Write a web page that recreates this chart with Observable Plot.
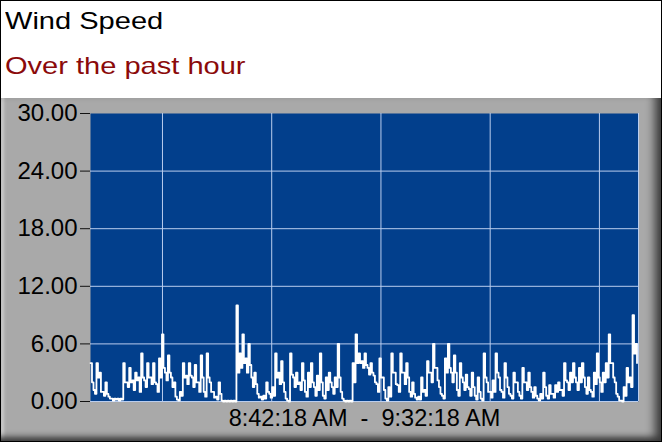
<!DOCTYPE html>
<html><head><meta charset="utf-8">
<script src="https://cdn.jsdelivr.net/npm/d3@7"></script>
<script src="https://cdn.jsdelivr.net/npm/@observablehq/plot@0.6"></script>
<style>
html,body{margin:0;padding:0;background:#fff;}
#wrap{position:relative;width:662px;height:442px;box-sizing:border-box;border:1px solid #000;overflow:hidden;font-family:"Liberation Sans",Arial,sans-serif;background:#fff;}
#title,#subtitle{position:absolute;left:4px;font-size:24px;line-height:24px;white-space:nowrap;transform:scaleX(1.21);transform-origin:0 0;}
#title{top:8px;color:#000;}
#subtitle{top:53px;color:#8B0A0A;}
#panel{position:absolute;left:0;top:97px;width:660px;height:343px;background:#a9a9a9;
  box-shadow: inset -12px 0 10px -6px #3a3a3a, inset 0 -8px 6px -4px #3a3a3a, inset 5px 0 3px -2px #d0d0d0;}
#panel svg{position:absolute;left:0;top:0;}
</style></head>
<body>
<div id="wrap">
  <div id="title">Wind Speed</div>
  <div id="subtitle">Over the past hour</div>
  <div id="panel"></div>
</div>
<script>
const startTime = new Date("2024-01-01T08:42:18Z");
const endTime = new Date("2024-01-01T09:32:18Z");
const xTickLabels = ["8:42:18 AM", "9:32:18 AM"];
const yTicks = [0, 6, 12, 18, 24, 30];
const yGrid = [0, 6, 12, 18, 24];
const xGrid = ["2024-01-01T08:48:52Z", "2024-01-01T08:58:50Z", "2024-01-01T09:08:48Z", "2024-01-01T09:18:46Z", "2024-01-01T09:28:44Z", "2024-01-01T09:32:18Z"];
// per-interval peak speed
const speedHigh = [
  4.0,1.2,4.0,3.0,1.0,2.0,0.5,0.3,0.3,0.3,0.3,4.0,2.0,3.5,2.2,3.0,2.5,5.0,2.2,4.0,2.5,4.0,1.8,4.5,7.0,3.0,4.8,2.5,2.0,0.2,1.0,4.0,2.7,4.0,2.5,3.8,2.0,
  4.8,1.0,5.0,2.0,1.0,0.5,2.0,0.1,0.1,0.1,0.1,0.1,10.0,5.0,7.0,4.5,6.0,2.5,3.0,0.8,0.5,0.6,2.0,0.8,1.5,5.0,3.0,4.2,1.0,0.1,5.0,2.5,3.0,2.0,4.0,1.0,3.0,
  4.0,1.5,2.7,5.0,0.6,2.5,3.0,1.5,2.5,6.0,1.0,0.1,0.1,0.1,4.0,7.0,5.0,4.2,5.0,3.5,4.0,2.7,1.8,4.5,2.5,0.3,1.5,5.0,3.0,1.7,5.0,3.0,4.0,1.0,2.0,0.4,
  0.5,2.5,1.2,4.2,3.0,6.0,3.5,1.5,0.6,4.5,6.0,3.0,4.8,1.2,4.0,2.0,2.8,1.3,3.0,0.6,2.5,0.3,5.0,2.0,1.0,2.2,5.0,2.5,1.0,4.0,1.5,0.6,3.0,2.0,0.6,3.5,2.0,
  3.0,1.0,1.5,0.3,0.8,3.0,0.6,1.7,0.8,1.7,2.0,1.2,4.0,2.0,3.0,4.0,2.0,3.5,4.0,1.5,2.5,1.0,3.0,5.0,2.0,3.0,4.0,7.0,4.0,2.0,0.5,0.1,1.5,3.5,2.5,9.0,6.0
];
// per-interval low speed
const speedLow = [
  2.0,0.8,2.5,1.0,0.6,0.8,0.3,0.1,0.2,0.1,0.2,2.0,1.5,2.0,1.2,2.2,1.0,2.5,1.5,2.5,1.8,2.0,1.0,2.5,3.5,2.2,3.0,1.5,0.5,0.1,0.6,2.5,1.8,2.7,1.5,2.0,1.0,
  2.5,0.5,2.5,1.0,0.4,0.2,0.8,0.0,0.0,0.0,0.0,0.0,3.0,3.5,4.0,3.0,3.8,1.5,1.8,0.4,0.2,0.3,1.0,0.4,0.6,2.5,1.8,2.0,0.3,0.0,2.8,1.5,1.8,1.2,2.2,0.5,1.5,
  2.0,0.6,1.2,2.0,0.3,1.2,2.0,0.8,1.5,2.5,0.3,0.0,0.0,0.0,2.0,4.0,4.0,3.5,3.8,2.8,3.0,2.0,1.0,2.5,1.2,0.1,0.5,3.0,1.8,1.0,3.0,1.8,2.5,0.5,0.8,0.2,
  0.2,1.0,0.6,3.0,2.0,3.5,2.2,0.8,0.3,3.0,3.5,2.0,3.0,0.6,2.5,1.2,1.5,0.6,1.5,0.2,1.0,0.1,2.5,1.0,0.4,1.0,3.0,1.2,0.4,2.5,0.8,0.3,2.0,1.0,0.3,2.0,1.2,
  1.5,0.4,0.6,0.1,0.3,1.5,0.3,0.8,0.4,1.0,1.2,0.6,2.2,1.2,2.0,2.5,1.2,2.0,2.5,0.8,1.2,0.5,1.8,2.5,1.0,2.0,2.5,4.0,2.5,0.8,0.1,0.0,0.6,2.0,1.5,5.0,4.0
];
const stepMs = (endTime - startTime) / speedHigh.length;
const rows = [];
speedHigh.forEach((s, i) => {
  rows.push({time: new Date(+startTime + i * stepMs), speed: s});
  rows.push({time: new Date(+startTime + (i + 0.5) * stepMs), speed: speedLow[i]});
});
const gridColor = "#BACDEE";

const chart = Plot.plot({
  width: 660, height: 343,
  marginLeft: 89, marginRight: 23, marginTop: 15, marginBottom: 40,
  style: {background: "transparent", fontFamily: "Liberation Sans, Arial, sans-serif", color: "#000", overflow: "visible"},
  x: {type: "utc", domain: [startTime, endTime], axis: null},
  y: {domain: [0, 30], axis: null},
  marks: [
    Plot.frame({fill: "#023F8C"}),
    Plot.ruleY(yGrid, {stroke: gridColor, strokeWidth: 1}),
    Plot.ruleX(xGrid.map(d => new Date(d)), {stroke: gridColor, strokeWidth: 1}),
    Plot.line(rows, {x: "time", y: "speed", curve: "step-after", stroke: "#fff", strokeWidth: 1.8}),
    Plot.axisY(yTicks, {tickFormat: d3.format(".2f"), tickSize: 10, tickPadding: 3, fontSize: 24, stroke: "#111", fill: "#000", label: null}),
    Plot.text([`${xTickLabels[0]}\u00a0\u00a0-\u00a0\u00a0${xTickLabels[1]}`], {frameAnchor: "bottom", lineAnchor: "bottom", dy: 24, fontSize: 23.5, fill: "#000"})
  ]
});
document.getElementById("panel").appendChild(chart);
</script>
</body></html>
